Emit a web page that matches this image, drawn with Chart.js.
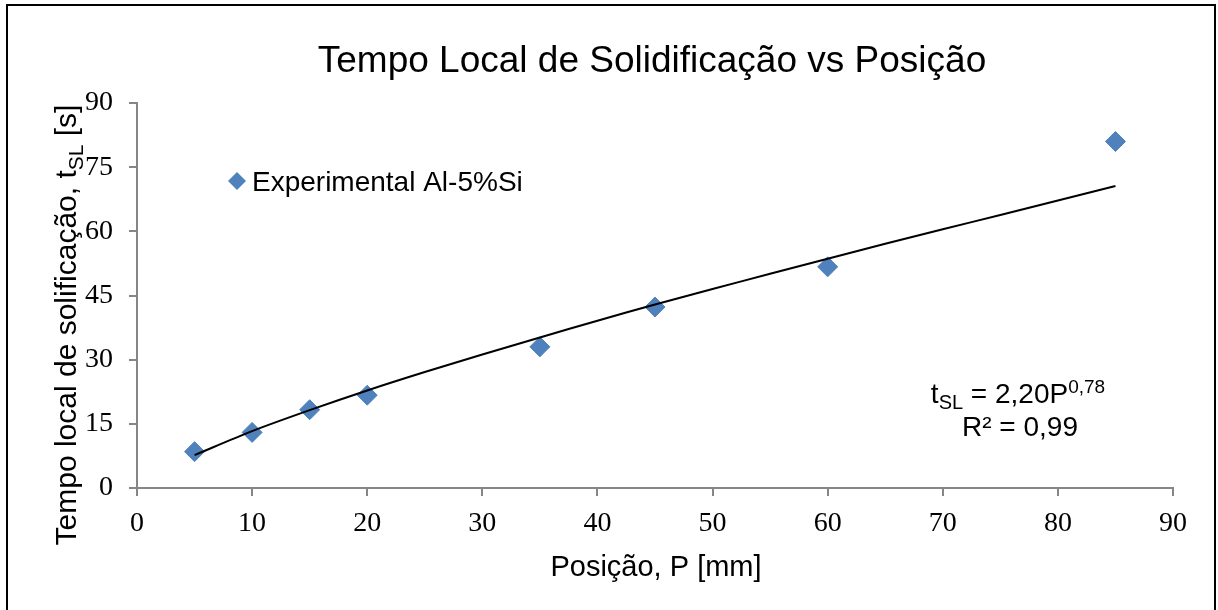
<!DOCTYPE html>
<html><head><meta charset="utf-8">
<script src="https://cdn.jsdelivr.net/npm/chart.js@4/dist/chart.umd.min.js"></script>
<style>html,body{margin:0;padding:0;background:#fff;}#wrap{width:1218px;height:610px;position:relative;}</style>
</head><body><div id="wrap"><canvas id="c" width="1218" height="610"></canvas></div>
<script>
// Experimental points
const positions = [5, 10, 15, 20, 35, 45, 60, 85];
const tslValues = [8.5, 13, 18.3, 21.7, 33, 42.3, 51.7, 81];
// Trend line
const trendX = [5, 10, 15, 20, 25, 30, 35, 40, 45, 50, 55, 60, 65, 70, 75, 80, 85];
const trendY = [7.7, 13.3, 18.2, 22.8, 27.1, 31.2, 35.2, 39.1, 42.9, 46.5, 50.1, 53.6, 57.1, 60.5, 63.8, 67.2, 70.6];
const xTicks = [0, 10, 20, 30, 40, 50, 60, 70, 80, 90];
const yTicks = [0, 15, 30, 45, 60, 75, 90];

const SANS = '"Liberation Sans", Arial, sans-serif';
const SERIF = '"Liberation Serif", "Times New Roman", serif';
const BLUE = '#4F81BD';
const AXIS = '#868686';

function drawRuns(ctx, runs, x, y, align) {
  let total = 0;
  runs.forEach(r => { ctx.font = r.size + 'px ' + SANS; total += ctx.measureText(r.t).width; });
  let cx = align === 'center' ? x - total / 2 : x;
  ctx.textAlign = 'left';
  ctx.textBaseline = 'alphabetic';
  runs.forEach(r => {
    ctx.font = r.size + 'px ' + SANS;
    ctx.fillText(r.t, cx, y + (r.dy || 0));
    cx += ctx.measureText(r.t).width;
  });
}

const deco = {
  id: 'deco',
  afterDraw(chart) {
    const ctx = chart.ctx;
    ctx.save();
    ctx.fillStyle = '#000';
    ctx.strokeStyle = '#000';
    ctx.lineWidth = 2;
    ctx.strokeRect(7, 5, 1208, 610);
    // title
    ctx.font = '37px ' + SANS;
    ctx.textAlign = 'center';
    ctx.textBaseline = 'alphabetic';
    ctx.fillText('Tempo Local de Solidificação vs Posição', 652, 72);
    // x title
    ctx.font = '29px ' + SANS;
    ctx.fillText('Posição, P [mm]', 656, 576);
    // y title rotated
    ctx.save();
    ctx.translate(76, 325);
    ctx.rotate(-Math.PI / 2);
    drawRuns(ctx, [
      {t: 'Tempo local de solificação, t', size: 30},
      {t: 'SL', size: 21, dy: 7},
      {t: ' [s]', size: 30}
    ], 0, 0, 'center');
    ctx.restore();
    // equation
    drawRuns(ctx, [
      {t: 't', size: 28},
      {t: 'SL', size: 20, dy: 6},
      {t: ' = 2,20P', size: 28},
      {t: '0,78', size: 19, dy: -10}
    ], 1018, 403, 'center');
    drawRuns(ctx, [{t: 'R² = 0,99', size: 28}], 1020, 436, 'center');
    // legend
    const ds = chart.data.datasets[0];
    ctx.fillStyle = ds.backgroundColor;
    ctx.beginPath();
    ctx.moveTo(237, 172); ctx.lineTo(246, 181); ctx.lineTo(237, 190); ctx.lineTo(228, 181); ctx.closePath();
    ctx.fill();
    ctx.fillStyle = '#000';
    ctx.font = '28px ' + SANS;
    ctx.textAlign = 'left';
    ctx.textBaseline = 'alphabetic';
    ctx.fillText(ds.label, 252, 191);
    ctx.restore();
  }
};

new Chart(document.getElementById('c'), {
  type: 'scatter',
  data: {
    datasets: [
      {
        label: 'Experimental Al-5%Si',
        data: positions.map((x, i) => ({x, y: tslValues[i]})),
        backgroundColor: BLUE,
        borderColor: BLUE,
        pointStyle: 'rectRot',
        pointRadius: 10,
        pointHoverRadius: 10,
        order: 1
      },
      {
        label: 'Trend',
        type: 'line',
        data: trendX.map((x, i) => ({x, y: trendY[i]})),
        borderColor: '#000',
        borderWidth: 2,
        pointRadius: 0,
        fill: false,
        tension: 0.3,
        order: 0
      }
    ]
  },
  options: {
    responsive: false,
    animation: false,
    layout: {padding: {top: 103, right: 45, left: 0, bottom: 0}},
    plugins: {legend: {display: false}, title: {display: false}, tooltip: {enabled: false}},
    scales: {
      x: {
        type: 'linear', min: 0, max: 90,
        afterBuildTicks: s => { s.ticks = xTicks.map(v => ({value: v})); },
        afterFit: s => { s.height = 122; },
        border: {color: AXIS, width: 2},
        grid: {drawOnChartArea: false, color: AXIS, tickLength: 8, lineWidth: 2},
        ticks: {font: {family: SERIF, size: 28}, color: '#000', padding: 11, maxRotation: 0}
      },
      y: {
        type: 'linear', min: 0, max: 90,
        afterBuildTicks: s => { s.ticks = yTicks.map(v => ({value: v})); },
        afterFit: s => { s.width = 137; },
        border: {color: AXIS, width: 2},
        grid: {drawOnChartArea: false, color: AXIS, tickLength: 8, lineWidth: 2},
        ticks: {font: {family: SERIF, size: 28}, color: '#000', padding: 16}
      }
    }
  },
  plugins: [deco]
});
</script></body></html>
